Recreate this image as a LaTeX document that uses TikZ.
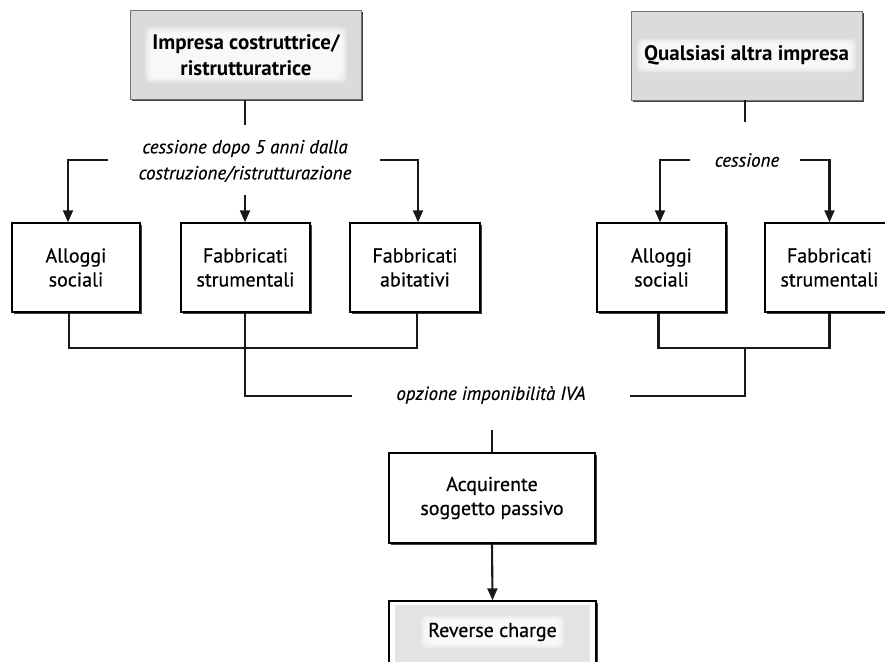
\documentclass[tikz,border=0pt]{standalone}
\usepackage{fontspec}
\setmainfont{PT Sans}
\newfontfamily\boxfont{PT Sans}[FakeBold=0.5]
\newfontfamily\labfont{PT Sans Italic}[FakeBold=0.3]
\usetikzlibrary{arrows.meta,shadows}
\pgfdeclarelayer{back}
\pgfdeclarelayer{halo}
\pgfsetlayers{back,halo,main}

\tikzset{
  boxbase/.style={draw=black, line width=1.4pt, align=center, inner sep=0pt,
    font=\boxfont\fontsize{20}{24}\selectfont, text=black,
    drop shadow={shadow xshift=1.8pt, shadow yshift=-1.8pt, fill=black!75, opacity=1}},
  whitebox/.style={boxbase, fill=white, minimum height=89pt},
  headbox/.style={boxbase, fill=black!14, draw=black!55, line width=0.8pt,
    minimum width=231pt, minimum height=89pt},
  headtext/.style={align=center, inner sep=0pt, text=black,
    font=\bfseries\fontsize{21}{26}\selectfont},
  rctext/.style={inner sep=0pt, text=black, font=\boxfont\fontsize{20}{24}\selectfont},
  label/.style={align=center, inner sep=0pt, text=black,
    font=\labfont\fontsize{19}{26}\selectfont},
  conn/.style={line width=2.1pt, black!90},
  arr/.style={conn, -{Triangle[length=12pt,width=10pt]}}
}

% soft white glow behind a text node
\newcommand{\glowbehind}[1]{%
  \begin{pgfonlayer}{halo}
    \foreach \d in {7,5.5,4,2.5,1} {
      \fill[white, opacity=0.3, rounded corners=6pt]
        ([xshift=-\d pt, yshift=\d pt]#1.north west) rectangle
        ([xshift=\d pt, yshift=-\d pt]#1.south east);
    }
  \end{pgfonlayer}}

\begin{document}
\begin{tikzpicture}[x=1pt, y=-1pt]
\useasboundingbox (0,0) rectangle (885,661);
\clip (0,0) rectangle (885,661);

% top level: the two kinds of seller
\begin{pgfonlayer}{back}
  \node[headbox] (top1) at (246,55) {};
  \node[headbox] (top2) at (746.5,55.5) {};
\end{pgfonlayer}
\node[headtext] (top1t) at (top1.center) {Impresa costruttrice/\\ristrutturatrice};
\node[headtext] (top2t) at (top2.center) {Qualsiasi altra impresa};
\glowbehind{top1t}
\glowbehind{top2t}

% transfer labels
\node[label] (t1) at (245,161) {cessione dopo 5 anni dalla\\costruzione/ristrutturazione};
\node[label] (t2) at (747,160) {cessione};

% building categories
\node[whitebox, minimum width=128pt] (a1) at (76,267.5) {Alloggi\\sociali};
\node[whitebox, minimum width=129pt] (a2) at (245.5,267.5) {Fabbricati\\strumentali};
\node[whitebox, minimum width=130pt] (a3) at (415,267.5) {Fabbricati\\abitativi};
\node[whitebox, minimum width=129pt] (b1) at (661.5,267.5) {Alloggi\\sociali};
\node[whitebox, minimum width=129pt] (b2) at (829.5,267.5) {Fabbricati\\strumentali};

% VAT option and buyer
\node[label] (opt) at (491,395) {opzione imponibilità IVA};
\node[whitebox, minimum width=206pt, minimum height=90pt] (acq) at (492,498) {Acquirente\\soggetto passivo};

% reverse charge box with its shaded inner panel
\begin{pgfonlayer}{back}
  \node[whitebox, minimum width=207pt, minimum height=90pt] (rc) at (492.5,646) {};
  \fill[black!11] ([xshift=7pt,yshift=-5pt]rc.north west) rectangle ([xshift=-7pt,yshift=5pt]rc.south east);
\end{pgfonlayer}
\node[rctext] (rct) at (492.5,632) {Reverse charge};
\glowbehind{rct}

% connection points
\coordinate (s1) at (245,125);
\coordinate (s2) at (745,122);
\coordinate (l1) at (108,160);
\coordinate (r1) at (380,160);
\coordinate (m1) at (245,195);
\coordinate (l2) at (690,160);
\coordinate (r2) at (800,160);
\coordinate (j1) at (245,348);
\coordinate (j2) at (745,348);
\coordinate (o1) at (352,396);
\coordinate (o2) at (630,396);
\coordinate (q)  at (492,430);

% stems under the headers
\draw[conn] (top1.south -| s1) -- (s1);
\draw[conn] (top2.south -| s2) -- (s2);

% arrows to the categories
\draw[arr] (l1) -| ([xshift=-8pt]a1.north);
\draw[arr] (m1) -- (a2.north -| m1);
\draw[arr] (r1) -| ([xshift=3pt]a3.north);
\draw[arr] (l2) -| ([xshift=-1.5pt]b1.north);
\draw[arr] (r2) -| (b2.north);

% joining the categories
\draw[conn] ([xshift=-7pt]a1.south) |- (j1) -| ([xshift=2pt]a3.south);
\draw[conn] (a2.south -| j1) -- (j1) |- (o1);
\draw[conn] ([xshift=-3pt]b1.south) |- (j2) -| (b2.south);
\draw[conn] (j2) |- (o2);

% down to the buyer and reverse charge
\draw[conn] (q) -- (acq.north);
\draw[arr] (acq.south) -- (rc.north);
\end{tikzpicture}
\end{document}
